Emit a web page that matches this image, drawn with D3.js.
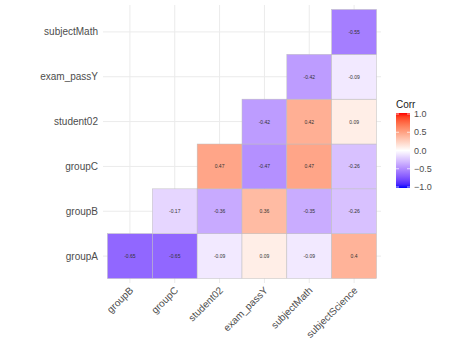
<!DOCTYPE html>
<html lang="en">
<head>
    <meta charset="UTF-8">
    <title>Correlation heatmap</title>
    <script src="https://d3js.org/d3.v7.min.js"></script>
    <style>
        body { margin: 0; background: #fff; }
        text { font-family: "Liberation Sans", Arial, sans-serif; }
        .axis-label { font-size: 10px; fill: #4d4d4d; }
        .cell-label { font-size: 5px; fill: #333; }
        .legend-label { font-size: 9px; fill: #4d4d4d; }
    </style>
</head>
<body>
    <svg width="474" height="347"></svg>
    <script>
        // columns (left to right) and rows (bottom to top)
        const xVars = ["groupB", "groupC", "student02", "exam_passY", "subjectMath", "subjectScience"];
        const yVars = ["groupA", "groupB", "groupC", "student02", "exam_passY", "subjectMath"];

        // one array per row, in column order; null = hidden upper triangle
        const rowGroupA      = [-0.65, -0.65, -0.09, 0.09, -0.09, 0.4];
        const rowGroupB      = [null, -0.17, -0.36, 0.36, -0.35, -0.26];
        const rowGroupC      = [null, null, 0.47, -0.47, 0.47, -0.26];
        const rowStudent02   = [null, null, null, -0.42, 0.42, 0.09];
        const rowExamPassY   = [null, null, null, null, -0.42, -0.09];
        const rowSubjectMath = [null, null, null, null, null, -0.55];

        const legendTicks = [-1, -0.5, 0, 0.5, 1];

        const rows = [rowGroupA, rowGroupB, rowGroupC, rowStudent02, rowExamPassY, rowSubjectMath];
        const cells = [];
        rows.forEach((r, i) => r.forEach((v, j) => {
            if (v !== null) cells.push({ row: yVars[i], col: xVars[j], value: v });
        }));

        const svg = d3.select("svg");

        const x = d3.scaleBand().domain(xVars).range([103, 381]).paddingInner(0).paddingOuter(0.1);
        const y = d3.scaleBand().domain(yVars.slice().reverse()).range([5, 283]).paddingInner(0).paddingOuter(0.1);

        const color = d3.scaleLinear()
            .domain([-1, 0, 1])
            .range(["blue", "white", "red"])
            .interpolate(d3.interpolateLab);

        // grid lines (theme_minimal)
        const grid = svg.append("g");
        grid.selectAll(".vg").data(xVars).enter().append("line")
            .attr("x1", d => x(d) + x.bandwidth() / 2)
            .attr("x2", d => x(d) + x.bandwidth() / 2)
            .attr("y1", 5).attr("y2", 283)
            .attr("stroke", "#ebebeb").attr("stroke-width", 1);
        grid.selectAll(".hg").data(yVars).enter().append("line")
            .attr("y1", d => y(d) + y.bandwidth() / 2)
            .attr("y2", d => y(d) + y.bandwidth() / 2)
            .attr("x1", 103).attr("x2", 381)
            .attr("stroke", "#ebebeb").attr("stroke-width", 1);

        // tiles
        svg.append("g").selectAll("rect").data(cells).enter().append("rect")
            .attr("x", d => x(d.col))
            .attr("y", d => y(d.row))
            .attr("width", x.bandwidth())
            .attr("height", y.bandwidth())
            .attr("fill", d => color(d.value))
            .attr("stroke", "#bebebe")
            .attr("stroke-width", 0.5);

        svg.append("g").selectAll("text").data(cells).enter().append("text")
            .attr("class", "cell-label")
            .attr("x", d => x(d.col) + x.bandwidth() / 2)
            .attr("y", d => y(d.row) + y.bandwidth() / 2)
            .attr("text-anchor", "middle")
            .attr("dominant-baseline", "central")
            .text(d => d.value);

        // axes
        svg.append("g").selectAll("text").data(yVars).enter().append("text")
            .attr("class", "axis-label")
            .attr("x", 98)
            .attr("y", d => y(d) + y.bandwidth() / 2)
            .attr("text-anchor", "end")
            .attr("dominant-baseline", "central")
            .text(d => d);

        svg.append("g").selectAll("text").data(xVars).enter().append("text")
            .attr("class", "axis-label")
            .attr("text-anchor", "end")
            .attr("transform", d => `translate(${x(d) + x.bandwidth() / 2 + 4},${291}) rotate(-45)`)
            .text(d => d);

        // legend
        const defs = svg.append("defs");
        const grad = defs.append("linearGradient").attr("id", "corrGrad")
            .attr("x1", 0).attr("y1", 1).attr("x2", 0).attr("y2", 0);
        d3.range(0, 1.0001, 0.05).forEach(t => {
            grad.append("stop").attr("offset", t).attr("stop-color", color(-1 + 2 * t));
        });

        const ly = d3.scaleLinear().domain([-1, 1]).range([187, 114]);
        const lx = 396, lw = 14;

        svg.append("text").attr("x", lx).attr("y", 108)
            .attr("font-size", 10).attr("fill", "#1a1a1a").text("Corr");

        svg.append("rect").attr("x", lx).attr("y", ly(1) - 1)
            .attr("width", lw).attr("height", ly(-1) - ly(1) + 2)
            .attr("fill", "url(#corrGrad)");

        const lg = svg.append("g");
        legendTicks.forEach(t => {
            lg.append("line").attr("x1", lx).attr("x2", lx + 3)
                .attr("y1", ly(t)).attr("y2", ly(t)).attr("stroke", "white").attr("stroke-width", 0.7);
            lg.append("line").attr("x1", lx + lw - 3).attr("x2", lx + lw)
                .attr("y1", ly(t)).attr("y2", ly(t)).attr("stroke", "white").attr("stroke-width", 0.7);
            lg.append("text").attr("class", "legend-label")
                .attr("x", lx + lw + 4).attr("y", ly(t))
                .attr("dominant-baseline", "central")
                .text(d3.format(".1f")(t));
        });
    </script>
</body>
</html>
